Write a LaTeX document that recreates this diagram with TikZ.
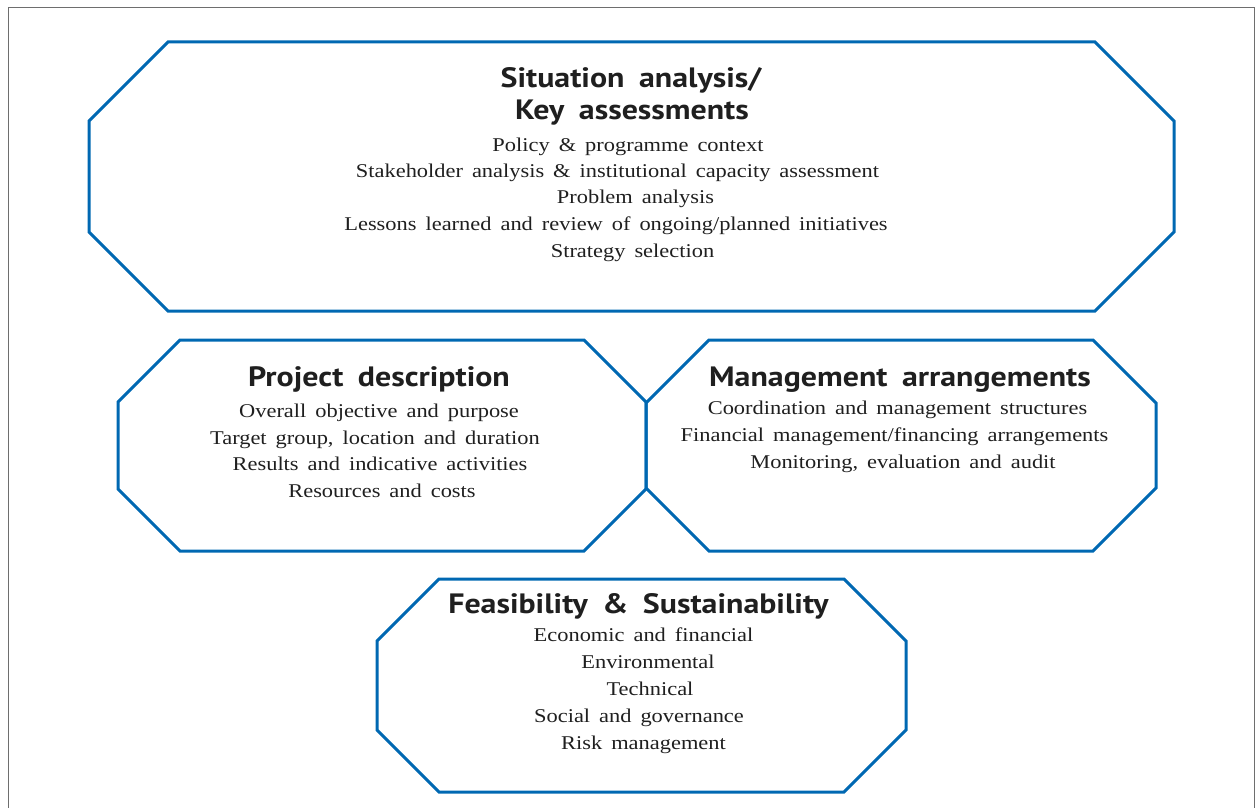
\documentclass[tikz,border=0pt]{standalone}
\usepackage{fontspec}
\setmainfont{Liberation Serif}[WordSpace={1.6},FakeStretch=1.15]
\newfontfamily\headfont{PT Sans}[WordSpace={1.8},FakeStretch=1.14]
\definecolor{octblue}{RGB}{0,104,178}
\definecolor{framegray}{RGB}{110,110,110}
\newcommand{\myoct}[6]{%
  \draw[octline] (#2+#6,#3) -- (#4-#6,#3) -- (#4,#3+#6) -- (#4,#5-#6)
    -- (#4-#6,#5) -- (#2+#6,#5) -- (#2,#5-#6) -- (#2,#3+#6) -- cycle;
  \coordinate (#1) at ({(#2+#4)/2},{(#3+#5)/2});}
\begin{document}
\begin{tikzpicture}[x=1pt,y=-1pt,
  octline/.style={draw=octblue,line width=3pt,line join=miter},
  frameline/.style={draw=framegray,line width=1pt},
  head/.style={anchor=base,inner sep=0pt,text=black!88,
    font=\headfont\bfseries\fontsize{28}{30}\selectfont},
  body/.style={anchor=base,inner sep=0pt,text=black!88,
    font=\fontsize{19.5}{22}\selectfont}]
\useasboundingbox (0,0) rectangle (1255,808);
\draw[frameline] (8,808) -- (8,8) -- (1254,8) -- (1254,808);

\myoct{sit}{89}{42}{1174}{311}{79}
\myoct{proj}{118}{340}{646}{551}{62}
\myoct{mgmt}{646}{340}{1156}{551}{63}
\myoct{feas}{377}{579}{906}{792}{62}

% Situation analysis
\node[head] (sith1) at (631,87) {Situation analysis/};
\node[head] (sith2) at (632,119) {Key assessments};
\node[body] (sitb1) at (628,151) {Policy \& programme context};
\node[body] (sitb2) at (617.5,177) {Stakeholder analysis \& institutional capacity assessment};
\node[body] (sitb3) at (635.5,203) {Problem analysis};
\node[body] (sitb4) at (616,230) {Lessons learned and review of ongoing/planned initiatives};
\node[body] (sitb5) at (632.5,257) {Strategy selection};

% Project description
\node[head] (projh) at (379,386) {Project description};
\node[body] (projb1) at (379,417) {Overall objective and purpose};
\node[body] (projb2) at (375,444) {Target group, location and duration};
\node[body] (projb3) at (380,470) {Results and indicative activities};
\node[body] (projb4) at (382,497) {Resources and costs};

% Management arrangements
\node[head] (mgmth) at (900,386) {Management arrangements};
\node[body] (mgmtb1) at (897.5,414) {Coordination and management structures};
\node[body] (mgmtb2) at (894.5,441) {Financial management/financing arrangements};
\node[body] (mgmtb3) at (903,468) {Monitoring, evaluation and audit};

% Feasibility
\node[head] (feash) at (638.5,613) {Feasibility \& Sustainability};
\node[body] (feasb1) at (643.5,641) {Economic and financial};
\node[body] (feasb2) at (648,668) {Environmental};
\node[body] (feasb3) at (650,695) {Technical};
\node[body] (feasb4) at (639,722) {Social and governance};
\node[body] (feasb5) at (643.5,749) {Risk management};
\end{tikzpicture}
\end{document}
